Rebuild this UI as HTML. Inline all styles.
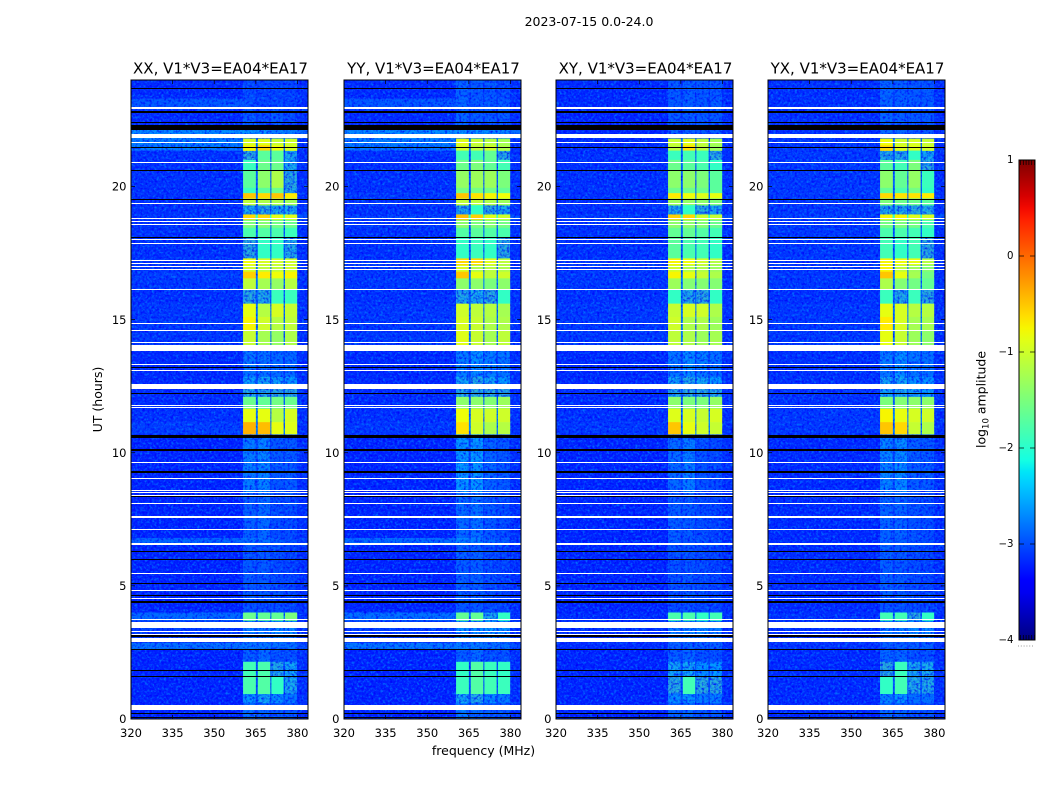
<!DOCTYPE html>
<html lang="en">
<head>
<meta charset="utf-8">
<title>2023-07-15 amplitude waterfall</title>
<style>
  html, body { margin: 0; padding: 0; background: #fff; }
  svg { display: block; }
  text { font-family: "DejaVu Sans", "Liberation Sans", sans-serif; fill: #000; }
</style>
</head>
<body>
<svg id="figure" xmlns="http://www.w3.org/2000/svg" width="1050" height="800" viewBox="0 0 1050 800">
  <defs>
    <filter id="speckle" x="0" y="0" width="1" height="1" color-interpolation-filters="sRGB">
      <feTurbulence type="fractalNoise" baseFrequency="0.42" numOctaves="2" seed="7" result="noise"/>
      <feColorMatrix in="noise" type="matrix" values="0 0 0 0 0  0 0 0 0 0.62  0 0 0 0 1  2.6 0 0 0 -1.15" result="lightRaw"/>
      <feColorMatrix in="noise" type="matrix" values="0 0 0 0 0  0 0 0 0 0  0 0 0 0 0.9  0 2.2 0 0 -1.0" result="darkRaw"/>
      <feComposite in="lightRaw" in2="SourceAlpha" operator="in" result="light"/>
      <feComposite in="darkRaw" in2="SourceAlpha" operator="in" result="dark"/>
      <feMerge result="merged">
        <feMergeNode in="SourceGraphic"/>
        <feMergeNode in="light"/>
        <feMergeNode in="dark"/>
      </feMerge>
      <feColorMatrix in="merged" type="matrix" values="1 0 0 0 0  0 0.7 0 0 0  0 0 1.05 0 0  0 0 0 1 0"/>
    </filter>
    <linearGradient id="jet-gradient" x1="0" y1="1" x2="0" y2="0"></linearGradient>
  </defs>
  <rect x="0" y="0" width="1050" height="800" fill="#fff"/>
  <text x="589" y="26" font-size="12.5" text-anchor="middle">2023-07-15 0.0-24.0</text>
  <text x="483.5" y="755" font-size="12.5" text-anchor="middle">frequency (MHz)</text>
  <text transform="translate(102 399.5) rotate(-90)" font-size="12.5" text-anchor="middle">UT (hours)</text>
  <text transform="translate(985.5 399.5) rotate(-90)" font-size="12.5" text-anchor="middle">log<tspan font-size="8.5" dy="3">10</tspan><tspan dy="-3"> amplitude</tspan></text>
  <g id="panels"></g>
  <g id="colorbar"></g>
</svg>

<script>
// ---- Data ----
const panelNames = ["XX", "YY", "XY", "YX"];
const baselineLabel = "V1*V3=EA04*EA17";
const freqTicks = [320, 335, 350, 365, 380];
const hourTicks = [0, 5, 10, 15, 20];
const colorbarTicks = [1, 0, -1, -2, -3, -4];

// Frequency edges (MHz) of the columns: off-band, band 1, gap, band 2, gap, band 3, gap, band 4, right edge
const freqEdges = [320, 360.4, 364.9, 365.7, 370.1, 370.6, 374.9, 375.5, 379.8, 383.8];
// Time edges (hours) of the rows, top to bottom
const hourEdges = [24, 23.3, 22.9, 22.12, 21.8, 21.55, 21.35, 21.0, 20.6, 19.95, 19.75, 19.55, 19.3, 18.95, 18.75, 18.45, 18.1, 17.3, 17.05, 16.8, 16.55, 16.15, 15.6, 15.1, 14.6, 14.05, 13.3, 12.85, 12.6, 12.1, 11.65, 11.15, 10.7, 8.5, 6.8, 6.57, 4.4, 4.0, 3.7, 3.05, 2.85, 2.6, 2.15, 1.6, 0.95, 0.6, 0];

// log10 amplitude per row: [off-band, band1, band2, band3, band4, gap, right edge]
const levelsXX = [
[-3.1,-2.85,-2.9,-2.9,-2.9,-3.0,-3.05],[-2.75,-2.8,-2.9,-2.85,-2.9,-3.0,-3.05],[-3.1,-2.75,-2.85,-2.75,-2.85,-3.0,-3.05],[-2.35,-2.3,-2.3,-2.4,-2.45,-2.5,-2.6],
[-2.45,-0.95,-0.9,-1.05,-1.0,-2.5,-3.05],[-2.45,-0.75,-0.6,-0.8,-0.95,-2.5,-3.05],[-3.05,-2.0,-1.7,-1.7,-2.1,-2.8,-3.05],[-3.05,-1.9,-1.6,-1.6,-2.1,-2.7,-3.05],
[-3.05,-1.7,-1.4,-1.2,-2.0,-2.7,-3.05],[-3.05,-1.9,-1.7,-1.6,-2.05,-2.7,-3.05],[-3.05,-0.5,-0.6,-0.5,-0.7,-2.6,-3.05],[-3.05,-1.1,-1.2,-1.2,-1.3,-2.6,-3.05],
[-3.05,-2.1,-2.0,-2.1,-2.1,-2.7,-3.05],[-3.0,-0.6,-0.6,-0.85,-0.9,-1.9,-2.8],[-3.05,-1.5,-1.45,-1.55,-1.6,-2.6,-3.05],[-3.05,-1.8,-1.75,-1.8,-1.9,-2.7,-3.05],
[-3.05,-2.0,-1.95,-1.95,-2.05,-2.7,-3.05],[-3.0,-0.8,-0.95,-1.0,-1.0,-2.5,-3.05],[-3.0,-1.0,-1.1,-1.1,-1.0,-2.5,-3.05],[-2.95,-0.55,-0.7,-0.8,-0.75,-2.5,-3.05],
[-3.0,-1.1,-1.25,-1.35,-1.15,-2.5,-3.05],[-3.05,-2.0,-2.05,-1.9,-1.9,-2.7,-3.05],[-3.0,-0.85,-1.15,-0.95,-1.05,-2.5,-3.05],[-3.0,-0.75,-1.0,-1.15,-1.1,-2.5,-3.05],
[-3.0,-1.05,-1.25,-1.35,-1.2,-2.5,-3.05],[-3.1,-2.5,-2.55,-2.6,-2.6,-2.95,-3.05],[-3.1,-2.5,-2.55,-2.6,-2.6,-2.95,-3.05],[-3.1,-2.2,-2.15,-2.2,-2.25,-2.8,-3.05],
[-3.1,-2.05,-2.05,-2.0,-2.0,-2.8,-3.05],[-3.1,-1.6,-1.65,-1.55,-1.6,-2.7,-3.05],[-3.05,-0.85,-0.85,-1.15,-0.95,-2.4,-3.05],[-2.95,-0.4,-0.45,-0.85,-0.9,-2.4,-3.05],
[-3.15,-2.45,-2.4,-2.75,-2.75,-2.9,-3.05],[-3.15,-2.7,-2.6,-2.85,-2.85,-2.95,-3.05],[-2.65,-2.55,-2.55,-2.7,-2.8,-2.8,-2.95],[-3.15,-2.75,-2.75,-2.85,-2.9,-2.95,-3.05],
[-3.15,-2.8,-2.85,-2.85,-2.9,-2.95,-3.05],[-2.6,-1.6,-1.65,-1.65,-1.5,-2.4,-3.05],[-2.95,-2.4,-2.45,-2.3,-2.35,-2.7,-3.05],[-2.95,-2.6,-2.6,-2.6,-2.6,-2.75,-3.05],
[-2.55,-2.5,-2.5,-2.55,-2.55,-2.6,-2.8],[-3.15,-2.7,-2.6,-2.8,-2.8,-2.9,-3.05],[-3.15,-1.85,-1.8,-2.05,-2.15,-2.8,-3.05],[-3.15,-1.8,-1.75,-1.95,-2.1,-2.8,-3.05],
[-3.15,-2.3,-2.15,-2.35,-2.5,-2.85,-3.05],[-3.15,-2.55,-2.65,-2.75,-2.75,-2.95,-3.05]
];
const levelsYY = [
[-3.1,-2.65,-2.75,-2.75,-2.85,-3.0,-3.05],[-2.75,-2.65,-2.75,-2.75,-2.75,-3.0,-3.05],[-3.1,-2.65,-2.75,-2.75,-2.75,-3.0,-3.05],[-2.35,-2.3,-2.3,-2.35,-2.4,-2.5,-2.6],
[-2.45,-0.9,-1.05,-1.15,-1.25,-2.5,-3.05],[-2.5,-0.95,-1.1,-1.0,-1.2,-2.5,-3.05],[-3.05,-1.85,-1.85,-1.65,-2.0,-2.8,-3.05],[-3.05,-1.6,-1.5,-1.65,-1.85,-2.7,-3.05],
[-3.05,-1.35,-1.3,-1.3,-1.5,-2.7,-3.05],[-3.05,-1.55,-1.55,-1.55,-1.65,-2.7,-3.05],[-3.0,-0.5,-0.65,-0.75,-0.8,-2.6,-3.05],[-3.0,-1.1,-1.1,-1.2,-1.3,-2.6,-3.05],
[-3.05,-2.05,-1.95,-2.0,-2.1,-2.7,-3.05],[-2.95,-0.45,-0.55,-0.9,-1.0,-1.8,-2.8],[-3.0,-1.4,-1.5,-1.45,-1.55,-2.6,-3.05],[-3.05,-1.75,-1.7,-1.75,-1.8,-2.7,-3.05],
[-3.05,-1.95,-1.9,-1.95,-2.0,-2.7,-3.05],[-3.0,-0.6,-0.6,-0.9,-1.1,-2.5,-3.05],[-3.0,-0.95,-1.2,-1.15,-1.2,-2.5,-3.05],[-3.0,-0.5,-0.85,-1.1,-1.0,-2.5,-3.05],
[-3.0,-1.4,-1.4,-1.5,-1.4,-2.5,-3.05],[-3.05,-2.05,-2.1,-2.0,-1.95,-2.7,-3.05],[-3.0,-1.0,-1.1,-1.15,-1.25,-2.5,-3.05],[-3.0,-0.95,-1.05,-1.2,-1.2,-2.5,-3.05],
[-3.0,-0.9,-1.05,-1.25,-1.1,-2.5,-3.05],[-3.1,-2.45,-2.3,-2.45,-2.5,-2.95,-3.05],[-3.1,-2.45,-2.35,-2.45,-2.5,-2.95,-3.05],[-3.1,-2.15,-2.05,-2.15,-2.25,-2.8,-3.05],
[-3.1,-2.05,-2.0,-2.0,-2.0,-2.8,-3.05],[-3.1,-1.4,-1.4,-1.45,-1.3,-2.7,-3.05],[-3.05,-0.8,-0.95,-1.0,-1.0,-2.4,-3.05],[-3.0,-0.65,-1.0,-1.2,-1.15,-2.4,-3.05],
[-3.15,-2.25,-2.25,-2.65,-2.75,-2.9,-3.05],[-3.15,-2.6,-2.55,-2.75,-2.85,-2.95,-3.05],[-2.6,-2.4,-2.45,-2.65,-2.75,-2.8,-2.95],[-3.15,-2.7,-2.7,-2.85,-2.9,-2.95,-3.05],
[-3.15,-2.75,-2.75,-2.85,-2.9,-2.95,-3.05],[-2.55,-1.65,-1.65,-2.1,-1.95,-2.4,-3.05],[-2.95,-2.3,-2.3,-2.25,-2.3,-2.7,-3.05],[-2.95,-2.6,-2.6,-2.6,-2.6,-2.75,-3.05],
[-2.5,-2.45,-2.45,-2.55,-2.55,-2.6,-2.8],[-3.15,-2.7,-2.6,-2.8,-2.8,-2.9,-3.05],[-3.15,-1.95,-1.75,-1.9,-1.95,-2.8,-3.05],[-3.15,-1.9,-1.75,-1.85,-1.9,-2.8,-3.05],
[-3.15,-2.15,-2.05,-2.35,-2.45,-2.85,-3.05],[-3.15,-2.45,-2.6,-2.7,-2.75,-2.95,-3.05]
];
const levelsXY = [
[-3.1,-2.75,-2.7,-2.75,-2.75,-3.0,-3.05],[-3.1,-2.75,-2.7,-2.75,-2.75,-3.0,-3.05],[-3.15,-2.75,-2.75,-2.75,-2.75,-3.0,-3.05],[-3.15,-2.7,-2.7,-2.75,-2.75,-3.0,-3.05],
[-3.1,-1.05,-0.9,-1.1,-1.25,-2.5,-3.05],[-3.1,-1.1,-0.65,-1.1,-1.3,-2.5,-3.05],[-3.05,-1.9,-1.85,-1.9,-2.0,-2.7,-3.05],[-3.05,-1.6,-1.7,-1.8,-1.95,-2.7,-3.05],
[-3.05,-1.4,-1.4,-1.5,-1.7,-2.7,-3.05],[-3.05,-1.6,-1.6,-1.6,-1.7,-2.7,-3.05],[-3.05,-0.7,-0.8,-0.9,-0.85,-2.6,-3.05],[-3.05,-1.3,-1.35,-1.4,-1.5,-2.6,-3.05],
[-3.05,-2.05,-1.95,-2.0,-2.1,-2.7,-3.05],[-3.0,-0.55,-0.6,-1.0,-1.05,-1.9,-2.8],[-3.05,-1.4,-1.4,-1.45,-1.6,-2.6,-3.05],[-3.05,-1.65,-1.65,-1.75,-1.85,-2.7,-3.05],
[-3.05,-1.7,-1.8,-1.85,-1.95,-2.7,-3.05],[-3.0,-0.75,-0.8,-1.0,-1.15,-2.5,-3.05],[-3.0,-1.0,-1.2,-1.2,-1.3,-2.5,-3.05],[-3.0,-0.75,-0.85,-1.05,-1.2,-2.5,-3.05],
[-3.0,-1.3,-1.45,-1.45,-1.45,-2.5,-3.05],[-3.05,-1.95,-2.05,-2.0,-1.95,-2.7,-3.05],[-3.0,-1.05,-0.95,-1.0,-1.2,-2.5,-3.05],[-3.0,-1.0,-1.2,-1.2,-1.3,-2.5,-3.05],
[-3.0,-1.1,-1.2,-1.3,-1.25,-2.5,-3.05],[-3.1,-2.5,-2.35,-2.45,-2.55,-2.95,-3.05],[-3.1,-2.5,-2.35,-2.5,-2.6,-2.95,-3.05],[-3.1,-2.15,-2.05,-2.15,-2.25,-2.8,-3.05],
[-3.1,-2.05,-2.0,-2.0,-2.05,-2.8,-3.05],[-3.1,-1.4,-1.5,-1.5,-1.35,-2.7,-3.05],[-3.05,-0.9,-0.95,-1.05,-0.95,-2.4,-3.05],[-3.0,-0.5,-0.85,-1.0,-1.05,-2.4,-3.05],
[-3.15,-2.6,-2.45,-2.8,-2.85,-2.95,-3.05],[-3.15,-2.7,-2.75,-2.85,-2.9,-2.95,-3.05],[-3.15,-2.7,-2.8,-2.8,-2.9,-2.95,-3.05],[-3.15,-2.8,-2.8,-2.85,-2.9,-2.95,-3.05],
[-3.15,-2.85,-2.85,-2.9,-2.9,-2.95,-3.05],[-3.1,-1.8,-1.8,-1.95,-1.85,-2.5,-3.05],[-3.05,-2.4,-2.4,-2.35,-2.45,-2.8,-3.05],[-3.1,-2.7,-2.7,-2.7,-2.7,-2.9,-3.05],
[-3.1,-2.7,-2.7,-2.7,-2.7,-2.9,-3.05],[-3.15,-2.7,-2.65,-2.8,-2.8,-2.9,-3.05],[-3.15,-2.15,-2.15,-2.3,-2.25,-2.85,-3.05],[-3.15,-2.0,-1.85,-2.0,-2.0,-2.85,-3.05],
[-3.15,-2.35,-2.3,-2.45,-2.45,-2.85,-3.05],[-3.15,-2.65,-2.6,-2.75,-2.75,-2.95,-3.05]
];
const levelsYX = [
[-3.05,-2.65,-2.7,-2.75,-2.75,-2.95,-3.05],[-3.05,-2.65,-2.7,-2.75,-2.75,-2.95,-3.05],[-3.05,-2.65,-2.7,-2.75,-2.75,-2.95,-3.05],[-3.05,-2.6,-2.65,-2.75,-2.75,-2.95,-3.05],
[-3.0,-0.8,-1.0,-0.95,-1.05,-2.5,-3.05],[-3.0,-0.6,-0.9,-0.9,-1.0,-2.5,-3.05],[-3.0,-2.05,-2.05,-1.95,-2.15,-2.7,-3.05],[-3.0,-1.7,-1.85,-1.5,-2.0,-2.7,-3.05],
[-3.0,-1.4,-1.65,-1.35,-1.9,-2.7,-3.05],[-3.0,-1.65,-1.8,-1.55,-1.95,-2.7,-3.05],[-3.0,-0.6,-0.65,-0.65,-0.7,-2.6,-3.05],[-3.0,-1.5,-1.6,-1.6,-1.7,-2.6,-3.05],
[-3.0,-2.05,-2.05,-2.0,-2.05,-2.7,-3.05],[-2.95,-0.75,-0.75,-0.9,-0.95,-1.9,-2.8],[-3.0,-1.55,-1.5,-1.55,-1.8,-2.6,-3.05],[-3.0,-1.8,-1.8,-1.85,-1.95,-2.7,-3.05],
[-3.0,-1.85,-1.95,-1.85,-2.0,-2.7,-3.05],[-3.0,-0.75,-0.8,-0.85,-1.15,-2.5,-3.05],[-3.0,-0.75,-1.1,-1.3,-1.45,-2.5,-3.05],[-3.0,-0.5,-0.85,-1.25,-1.55,-2.5,-3.05],
[-3.0,-1.2,-1.45,-1.55,-1.65,-2.5,-3.05],[-3.05,-1.9,-2.05,-1.9,-2.0,-2.7,-3.05],[-3.0,-0.85,-0.95,-1.15,-1.15,-2.5,-3.05],[-3.0,-0.7,-0.95,-1.25,-1.25,-2.5,-3.05],
[-3.0,-0.85,-1.05,-1.3,-1.4,-2.5,-3.05],[-3.05,-2.45,-2.3,-2.5,-2.55,-2.95,-3.05],[-3.05,-2.5,-2.3,-2.5,-2.55,-2.95,-3.05],[-3.05,-2.15,-2.15,-2.3,-2.3,-2.8,-3.05],
[-3.05,-2.15,-2.1,-2.15,-2.25,-2.8,-3.05],[-3.05,-1.5,-1.45,-1.4,-1.4,-2.7,-3.05],[-3.0,-0.75,-0.85,-0.95,-1.0,-2.4,-3.05],[-3.0,-0.5,-0.6,-1.05,-1.2,-2.4,-3.05],
[-3.1,-2.4,-2.35,-2.7,-2.75,-2.9,-3.05],[-3.1,-2.65,-2.65,-2.8,-2.85,-2.95,-3.05],[-3.1,-2.65,-2.7,-2.8,-2.85,-2.95,-3.05],[-3.1,-2.7,-2.75,-2.85,-2.9,-2.95,-3.05],
[-3.1,-2.8,-2.8,-2.85,-2.9,-2.95,-3.05],[-3.05,-1.85,-1.85,-2.0,-1.95,-2.5,-3.05],[-3.05,-2.45,-2.45,-2.3,-2.35,-2.75,-3.05],[-3.05,-2.7,-2.7,-2.7,-2.7,-2.9,-3.05],
[-3.05,-2.7,-2.7,-2.7,-2.7,-2.9,-3.05],[-3.1,-2.65,-2.65,-2.8,-2.8,-2.9,-3.05],[-3.1,-2.0,-1.9,-2.1,-2.1,-2.8,-3.05],[-3.1,-1.95,-1.85,-2.05,-2.05,-2.8,-3.05],
[-3.1,-2.4,-2.3,-2.55,-2.55,-2.85,-3.05],[-3.1,-2.6,-2.65,-2.75,-2.8,-2.95,-3.05]
];
const panelLevels = [levelsXX, levelsYY, levelsXY, levelsYX];
// Which value in a row each frequency column uses
const columnLevelIndex = [0, 1, 5, 2, 5, 3, 5, 4, 6];

// Flagged (white) and zero-amplitude (black) integrations: [centre hour, duration hours]
const flaggedIntervals = [
[22.94,.075],[21.91,.16],[21.65,.04],[20.9,.04],[19.36,.04],[18.79,.05],[18.68,.04],[18.59,.04],[17.99,.04],[17.87,.04],
[17.22,.04],[17.1,.04],[16.99,.04],[16.88,.04],[16.13,.04],[14.85,.04],[14.59,.04],[14.14,.04],[13.94,.225],[13.31,.04],
[13.07,.04],[12.49,.19],[11.77,.04],[11.68,.04],[9.63,.04],[9.03,.04],[8.58,.04],[8.49,.04],[8.39,.04],[8.09,.04],
[7.59,.075],[7.12,.04],[6.57,.075],[5.46,.04],[4.83,.04],[4.52,.04],[3.74,.04],[3.54,.24],[3.29,.04],[3.19,.04],[2.97,.16],[0.43,.19]
];
const zeroIntervals = [
[23.68,.04],[22.79,.075],[22.42,.04],[22.29,.04],[22.19,.14],[21.46,.04],[20.6,.04],[19.5,.04],[18.07,.04],[13.2,.04],
[12.24,.04],[10.63,.11],[10.11,.075],[9.26,.075],[8.35,.04],[6.3,.04],[6.0,.04],[5.08,.04],[4.63,.04],[4.39,.075],
[3.1,.075],[2.62,.04],[1.83,.04],[1.6,.04],[0.2,.04],[0.04,.04]
];

// ---- Layout ----
const SVG_NS = "http://www.w3.org/2000/svg";
const axesTop = 80, axesBottom = 719, axesWidth = 177;
const axesLefts = [131, 344, 556, 768];
const hourMin = 0, hourMax = 24, freqMin = 320, freqMax = 383.8;
const colorbarBox = { left: 1019, right: 1035, top: 160, bottom: 640 };
const levelMin = -4, levelMax = 1;

function yScale(hour) {
  return axesBottom - (hour - hourMin) / (hourMax - hourMin) * (axesBottom - axesTop);
}
function xScale(freq, left) {
  return left + (freq - freqMin) / (freqMax - freqMin) * axesWidth;
}
function colorbarY(level) {
  return colorbarBox.bottom - (level - levelMin) / (levelMax - levelMin) * (colorbarBox.bottom - colorbarBox.top);
}
function jetChannel(v, pts) {
  for (let i = 1; i < pts.length; i++) {
    if (v <= pts[i][0]) {
      const t = (v - pts[i - 1][0]) / (pts[i][0] - pts[i - 1][0]);
      return pts[i - 1][1] + t * (pts[i][1] - pts[i - 1][1]);
    }
  }
  return pts[pts.length - 1][1];
}
function jetColor(level) {
  const v = Math.max(0, Math.min(1, (level - levelMin) / (levelMax - levelMin)));
  const r = jetChannel(v, [[0, 0], [0.35, 0], [0.66, 1], [0.89, 1], [1, 0.5]]);
  const g = jetChannel(v, [[0, 0], [0.125, 0], [0.375, 1], [0.64, 1], [0.91, 0], [1, 0]]);
  const b = jetChannel(v, [[0, 0.5], [0.11, 1], [0.34, 1], [0.65, 0], [1, 0]]);
  return "rgb(" + Math.round(r * 255) + "," + Math.round(g * 255) + "," + Math.round(b * 255) + ")";
}
function make(tag, attrs, parent) {
  const el = document.createElementNS(SVG_NS, tag);
  for (const k in attrs) el.setAttribute(k, attrs[k]);
  parent.appendChild(el);
  return el;
}
function lineTop(iv) {
  return Math.round(yScale(iv[0] + iv[1] / 2));
}
function lineHeight(iv) {
  return Math.max(1, Math.round(iv[1] / (hourMax - hourMin) * (axesBottom - axesTop)));
}

const panelsRoot = document.getElementById("panels");

panelNames.forEach(function (name, p) {
  const left = axesLefts[p];
  const right = left + axesWidth;
  const lower = name.toLowerCase();
  const group = make("g", {}, panelsRoot);
  
  

  const faint = make("g", { filter: "url(#speckle)" }, group);
  
  
  const bright = make("g", {}, group);
  
  

  panelLevels[p].forEach(function (row, r) {
    const y0 = yScale(hourEdges[r]);
    const y1 = yScale(hourEdges[r + 1]);
    columnLevelIndex.forEach(function (levelIndex, c) {
      const level = row[levelIndex];
      const x0 = xScale(freqEdges[c], left);
      const x1 = xScale(freqEdges[c + 1], left);
      const cell = make("rect", {
        x: x0.toFixed(2), y: y0.toFixed(2),
        width: (x1 - x0 + 0.3).toFixed(2), height: (y1 - y0 + 0.3).toFixed(2),
        fill: jetColor(level)
      }, level < -1.95 ? faint : bright);
      
      
    });
  });

  zeroIntervals.forEach(function (iv) {
    const mark = make("rect", {
      x: left, y: lineTop(iv),
      width: axesWidth, height: lineHeight(iv),
      fill: "#000"
    }, group);
    
    
  });
  flaggedIntervals.forEach(function (iv) {
    const mark = make("rect", {
      x: left, y: lineTop(iv),
      width: axesWidth, height: lineHeight(iv),
      fill: "#fff"
    }, group);
    
    
  });

  freqTicks.forEach(function (f) {
    const x = xScale(f, left);
    const tickLow = make("line", { x1: x, x2: x, y1: axesBottom, y2: axesBottom - 4, stroke: "#000", "stroke-width": 0.7 }, group);
    
    
    const tickHigh = make("line", { x1: x, x2: x, y1: axesTop, y2: axesTop + 4, stroke: "#000", "stroke-width": 0.7 }, group);
    
    
    const label = make("text", { x: x, y: 737, "font-size": 11.5, "text-anchor": "middle" }, group);
    
    
    label.textContent = f;
  });
  hourTicks.forEach(function (h) {
    const y = yScale(h);
    const tickLeft = make("line", { x1: left, x2: left + 4, y1: y, y2: y, stroke: "#000", "stroke-width": 0.7 }, group);
    
    
    const tickRight = make("line", { x1: right, x2: right - 4, y1: y, y2: y, stroke: "#000", "stroke-width": 0.7 }, group);
    
    
    const label = make("text", { x: left - 4.5, y: y + 4.2, "font-size": 11.5, "text-anchor": "end" }, group);
    
    
    label.textContent = h;
  });

  const frame = make("rect", { x: left, y: axesTop, width: axesWidth, height: axesBottom - axesTop, fill: "none", stroke: "#000", "stroke-width": 1 }, group);
  
  

  const title = make("text", { x: left + axesWidth / 2 + 1, y: 73.5, "font-size": 15, "text-anchor": "middle" }, group);
  
  
  title.textContent = name + ", " + baselineLabel;
});

// ---- Colorbar ----
const gradient = document.getElementById("jet-gradient");
for (let i = 0; i <= 40; i++) {
  make("stop", { offset: (i / 40).toFixed(3), "stop-color": jetColor(levelMin + (levelMax - levelMin) * i / 40) }, gradient);
}
const barRoot = document.getElementById("colorbar");
const box = colorbarBox;
const barFill = make("rect", { x: box.left, y: box.top, width: box.right - box.left, height: box.bottom - box.top, fill: "url(#jet-gradient)" }, barRoot);


colorbarTicks.forEach(function (level) {
  const y = colorbarY(level);
  const edge = level === levelMax || level === levelMin;
  if (!edge) {
    const tickA = make("line", { x1: box.left, x2: box.left + 5, y1: y, y2: y, stroke: "#000", "stroke-width": 0.7 }, barRoot);
    
    
    const tickB = make("line", { x1: box.right, x2: box.right - 5, y1: y, y2: y, stroke: "#000", "stroke-width": 0.7 }, barRoot);
    
    
  }
  const label = make("text", { x: box.left - 5.5, y: y + 3.2, "font-size": 10.2, "text-anchor": "end" }, barRoot);
  
  
  label.textContent = String(level).replace("-", "\u2212");
});
for (let i = 0; i < 6; i++) {
  const x = box.left + 1.5 + i * 2.8;
  const topTick = make("line", { x1: x, x2: x, y1: box.top, y2: box.top + 5, stroke: "#000", "stroke-width": 0.7 }, barRoot);
  
  
  const lowTick = make("line", { x1: x, x2: x, y1: box.bottom, y2: box.bottom - 5, stroke: "#000", "stroke-width": 0.7 }, barRoot);
  
  
  const dot = make("rect", { x: x - 2.5, y: 645.5, width: 1, height: 1, fill: "#999" }, barRoot);
  
  
}
const barFrame = make("rect", { x: box.left, y: box.top, width: box.right - box.left, height: box.bottom - box.top, fill: "none", stroke: "#000", "stroke-width": 1 }, barRoot);


</script>
</body>
</html>
